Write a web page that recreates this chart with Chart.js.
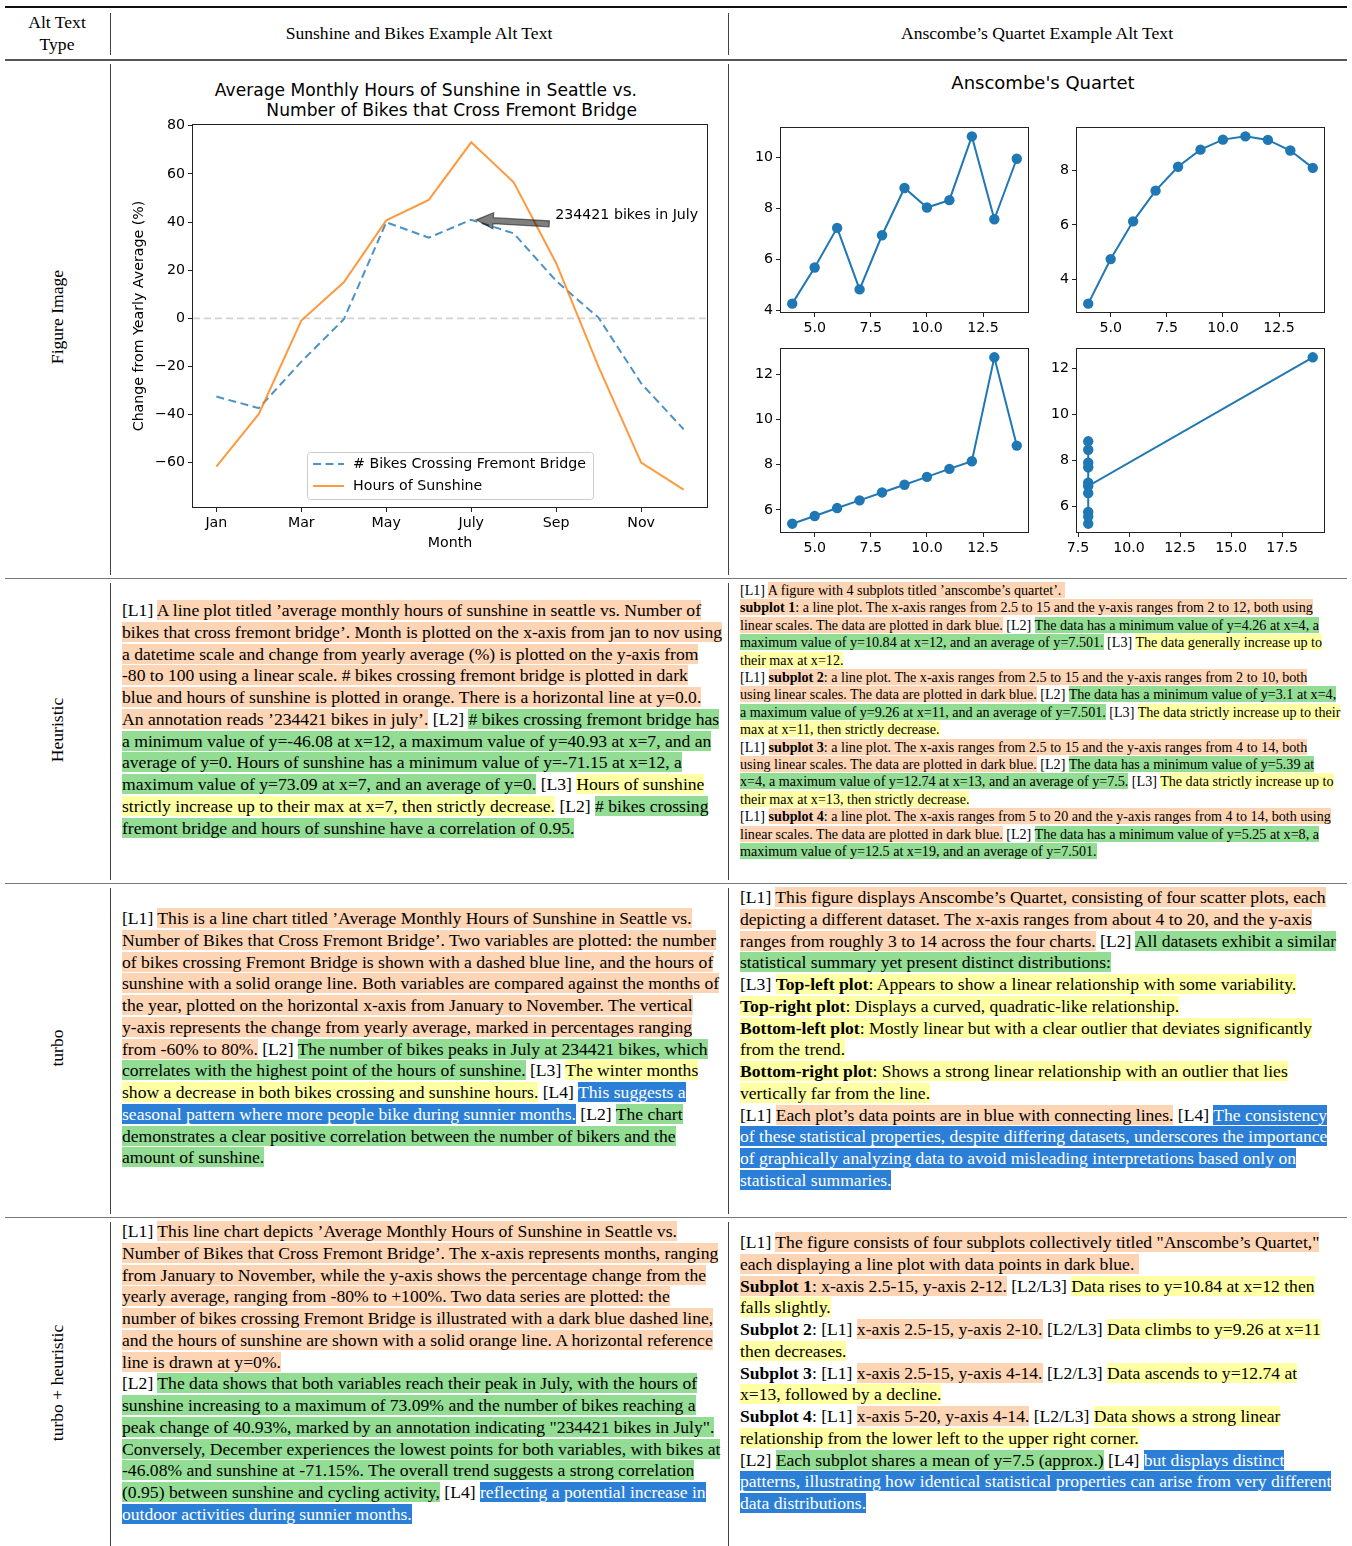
<!DOCTYPE html>
<html>
<head>
<meta charset="utf-8">
<script src="https://cdn.jsdelivr.net/npm/chart.js@4.4.1/dist/chart.umd.min.js"></script>
<style>
body { margin: 0; background: #fff; }
#page { position: relative; width: 1352px; height: 1546px; overflow: hidden; font-family: 'Liberation Serif', 'Times New Roman', serif; font-size: 17.6px; color: #000; }
.hr { position: absolute; left: 5px; width: 1342px; }
.vr { position: absolute; width: 1px; background: #444; }
.cell { position: absolute; white-space: nowrap; line-height: 21.75px; }
.small { font-size: 14.1px; line-height: 17.4px; }
.o { background: #fdd4b4; }
.g { background: #93dc93; }
.y { background: #ffffa3; }
.b { background: #2c7fd6; color: #fff; }
.ctr { position: absolute; white-space: nowrap; text-align: center; line-height: 22px; transform: translate(-50%, -50%); }
.rot { position: absolute; white-space: nowrap; line-height: 22px; transform: translate(-50%, -50%) rotate(-90deg); }
.ctitle { position: absolute; font-family: 'DejaVu Sans', sans-serif; white-space: nowrap; color: #000; }
canvas { position: absolute; }
</style>
</head>
<body>
<div id="page">
  <!-- rules -->
  <div class="hr" style="top:6px;height:2px;background:#111"></div>
  <div class="hr" style="top:59px;height:2px;background:#555"></div>
  <div class="hr" style="top:578px;height:1px;background:#777"></div>
  <div class="hr" style="top:883px;height:1px;background:#777"></div>
  <div class="hr" style="top:1217px;height:1px;background:#777"></div>

  <div class="vr" style="left:110px;top:13px;height:42px"></div>
  <div class="vr" style="left:728px;top:13px;height:42px"></div>
  <div class="vr" style="left:110px;top:64px;height:511px"></div>
  <div class="vr" style="left:728px;top:64px;height:511px"></div>
  <div class="vr" style="left:110px;top:583px;height:297px"></div>
  <div class="vr" style="left:728px;top:583px;height:297px"></div>
  <div class="vr" style="left:110px;top:888px;height:326px"></div>
  <div class="vr" style="left:728px;top:888px;height:326px"></div>
  <div class="vr" style="left:110px;top:1222px;height:324px"></div>
  <div class="vr" style="left:728px;top:1222px;height:324px"></div>

  <!-- header -->
  <div class="ctr" style="left:57px;top:33px">Alt Text<br>Type</div>
  <div class="ctr" style="left:419px;top:33px">Sunshine and Bikes Example Alt Text</div>
  <div class="ctr" style="left:1037px;top:33px">Anscombe’s Quartet Example Alt Text</div>

  <!-- row labels -->
  <div class="rot" style="left:57px;top:317px">Figure Image</div>
  <div class="rot" style="left:57px;top:730px">Heuristic</div>
  <div class="rot" style="left:57px;top:1048px">turbo</div>
  <div class="rot" style="left:57px;top:1383px">turbo + heuristic</div>

  <!-- figures -->
  <div class="ctitle" style="left:100px;top:80px;width:537px;text-align:right;font-size:17.1px;line-height:20px">Average Monthly Hours of Sunshine in Seattle vs.<br>Number of Bikes that Cross Fremont Bridge</div>
  <canvas id="sun" width="612" height="440" style="left:112px;top:118px"></canvas>

  <div class="ctitle" style="left:728px;top:73px;width:630px;text-align:center;font-size:18px;line-height:20px">Anscombe's Quartet</div>
  <canvas id="q1" width="300" height="228" style="left:735px;top:118px"></canvas>
  <canvas id="q2" width="300" height="228" style="left:1031px;top:118px"></canvas>
  <canvas id="q3" width="300" height="228" style="left:735px;top:339px"></canvas>
  <canvas id="q4" width="300" height="228" style="left:1031px;top:339px"></canvas>

  <!-- heuristic -->
  <div class="cell" style="left:122px;top:600px">[L1] <span class="o">A line plot titled ’average monthly hours of sunshine in seattle vs. Number of<br>
bikes that cross fremont bridge’. Month is plotted on the x-axis from jan to nov using<br>
a datetime scale and change from yearly average (%) is plotted on the y-axis from<br>
-80 to 100 using a linear scale. # bikes crossing fremont bridge is plotted in dark<br>
blue and hours of sunshine is plotted in orange. There is a horizontal line at y=0.0.<br>
An annotation reads ’234421 bikes in july’.</span> [L2] <span class="g"># bikes crossing fremont bridge has<br>
a minimum value of y=-46.08 at x=12, a maximum value of y=40.93 at x=7, and an<br>
average of y=0. Hours of sunshine has a minimum value of y=-71.15 at x=12, a<br>
maximum value of y=73.09 at x=7, and an average of y=0.</span> [L3] <span class="y">Hours of sunshine<br>
strictly increase up to their max at x=7, then strictly decrease.</span> [L2] <span class="g"># bikes crossing<br>
fremont bridge and hours of sunshine have a correlation of 0.95.</span></div>

  <div class="cell small" style="left:740px;top:582px">[L1] <span class="o">A figure with 4 subplots titled ’anscombe’s quartet’.&nbsp;<br>
<b>subplot 1</b>: a line plot. The x-axis ranges from 2.5 to 15 and the y-axis ranges from 2 to 12, both using<br>
linear scales. The data are plotted in dark blue.</span> [L2] <span class="g">The data has a minimum value of y=4.26 at x=4, a<br>
maximum value of y=10.84 at x=12, and an average of y=7.501.</span> [L3] <span class="y">The data generally increase up to<br>
their max at x=12.</span><br>
[L1] <span class="o"><b>subplot 2</b>: a line plot. The x-axis ranges from 2.5 to 15 and the y-axis ranges from 2 to 10, both<br>
using linear scales. The data are plotted in dark blue.</span> [L2] <span class="g">The data has a minimum value of y=3.1 at x=4,<br>
a maximum value of y=9.26 at x=11, and an average of y=7.501.</span> [L3] <span class="y">The data strictly increase up to their<br>
max at x=11, then strictly decrease.</span><br>
[L1] <span class="o"><b>subplot 3</b>: a line plot. The x-axis ranges from 2.5 to 15 and the y-axis ranges from 4 to 14, both<br>
using linear scales. The data are plotted in dark blue.</span> [L2] <span class="g">The data has a minimum value of y=5.39 at<br>
x=4, a maximum value of y=12.74 at x=13, and an average of y=7.5.</span> [L3] <span class="y">The data strictly increase up to<br>
their max at x=13, then strictly decrease.</span><br>
[L1] <span class="o"><b>subplot 4</b>: a line plot. The x-axis ranges from 5 to 20 and the y-axis ranges from 4 to 14, both using<br>
linear scales. The data are plotted in dark blue.</span> [L2] <span class="g">The data has a minimum value of y=5.25 at x=8, a<br>
maximum value of y=12.5 at x=19, and an average of y=7.501.</span></div>

  <!-- turbo -->
  <div class="cell" style="left:122px;top:908px">[L1] <span class="o">This is a line chart titled ’Average Monthly Hours of Sunshine in Seattle vs.<br>
Number of Bikes that Cross Fremont Bridge’. Two variables are plotted: the number<br>
of bikes crossing Fremont Bridge is shown with a dashed blue line, and the hours of<br>
sunshine with a solid orange line. Both variables are compared against the months of<br>
the year, plotted on the horizontal x-axis from January to November. The vertical<br>
y-axis represents the change from yearly average, marked in percentages ranging<br>
from -60% to 80%.</span> [L2] <span class="g">The number of bikes peaks in July at 234421 bikes, which<br>
correlates with the highest point of the hours of sunshine.</span> [L3] <span class="y">The winter months<br>
show a decrease in both bikes crossing and sunshine hours.</span> [L4] <span class="b">This suggests a<br>
seasonal pattern where more people bike during sunnier months.</span> [L2] <span class="g">The chart<br>
demonstrates a clear positive correlation between the number of bikers and the<br>
amount of sunshine.</span></div>

  <div class="cell" style="left:740px;top:887px">[L1] <span class="o">This figure displays Anscombe’s Quartet, consisting of four scatter plots, each<br>
depicting a different dataset. The x-axis ranges from about 4 to 20, and the y-axis<br>
ranges from roughly 3 to 14 across the four charts.</span> [L2] <span class="g">All datasets exhibit a similar<br>
statistical summary yet present distinct distributions:</span><br>
[L3] <span class="y"><b>Top-left plot</b>: Appears to show a linear relationship with some variability.<br>
<b>Top-right plot</b>: Displays a curved, quadratic-like relationship.<br>
<b>Bottom-left plot</b>: Mostly linear but with a clear outlier that deviates significantly<br>
from the trend.<br>
<b>Bottom-right plot</b>: Shows a strong linear relationship with an outlier that lies<br>
vertically far from the line.</span><br>
[L1] <span class="o">Each plot’s data points are in blue with connecting lines.</span> [L4] <span class="b">The consistency<br>
of these statistical properties, despite differing datasets, underscores the importance<br>
of graphically analyzing data to avoid misleading interpretations based only on<br>
statistical summaries.</span></div>

  <!-- turbo + heuristic -->
  <div class="cell" style="left:122px;top:1221px">[L1] <span class="o">This line chart depicts ’Average Monthly Hours of Sunshine in Seattle vs.<br>
Number of Bikes that Cross Fremont Bridge’. The x-axis represents months, ranging<br>
from January to November, while the y-axis shows the percentage change from the<br>
yearly average, ranging from -80% to +100%. Two data series are plotted: the<br>
number of bikes crossing Fremont Bridge is illustrated with a dark blue dashed line,<br>
and the hours of sunshine are shown with a solid orange line. A horizontal reference<br>
line is drawn at y=0%.</span><br>
[L2] <span class="g">The data shows that both variables reach their peak in July, with the hours of<br>
sunshine increasing to a maximum of 73.09% and the number of bikes reaching a<br>
peak change of 40.93%, marked by an annotation indicating "234421 bikes in July".<br>
Conversely, December experiences the lowest points for both variables, with bikes at<br>
-46.08% and sunshine at -71.15%. The overall trend suggests a strong correlation<br>
(0.95) between sunshine and cycling activity,</span> [L4] <span class="b">reflecting a potential increase in<br>
outdoor activities during sunnier months.</span></div>

  <div class="cell" style="left:740px;top:1232px">[L1] <span class="o">The figure consists of four subplots collectively titled "Anscombe’s Quartet,"<br>
each displaying a line plot with data points in dark blue.&nbsp;<br>
<b>Subplot 1</b>: x-axis 2.5-15, y-axis 2-12.</span> [L2/L3] <span class="y">Data rises to y=10.84 at x=12 then<br>
falls slightly.</span><br>
<b>Subplot 2</b>: [L1] <span class="o">x-axis 2.5-15, y-axis 2-10.</span> [L2/L3] <span class="y">Data climbs to y=9.26 at x=11<br>
then decreases.</span><br>
<b>Subplot 3</b>: [L1] <span class="o">x-axis 2.5-15, y-axis 4-14.</span> [L2/L3] <span class="y">Data ascends to y=12.74 at<br>
x=13, followed by a decline.</span><br>
<b>Subplot 4</b>: [L1] <span class="o">x-axis 5-20, y-axis 4-14.</span> [L2/L3] <span class="y">Data shows a strong linear<br>
relationship from the lower left to the upper right corner.</span><br>
[L2] <span class="g">Each subplot shares a mean of y=7.5 (approx.)</span> [L4] <span class="b">but displays distinct<br>
patterns, illustrating how identical statistical properties can arise from very different<br>
data distributions.</span></div>
</div>

<script>
// sunshine vs bikes
const months = ['Jan', 'Feb', 'Mar', 'Apr', 'May', 'Jun', 'Jul', 'Aug', 'Sep', 'Oct', 'Nov', 'Dec'];
const monthTickLabels = ['Jan', 'Mar', 'May', 'July', 'Sep', 'Nov'];
const bikes = [-32.5, -37.3, -18.0, -0.4, 39.9, 33.5, 40.93, 35.3, 15.5, 0.2, -27.0, -46.08];
const sunshine = [-61.6, -39.7, -0.9, 15.0, 40.7, 49.2, 73.09, 56.5, 22.9, -20.3, -59.9, -71.15];
const changeTicks = [-60, -40, -20, 0, 20, 40, 60, 80];
const bikeLabel = '# Bikes Crossing Fremont Bridge';
const sunLabel = 'Hours of Sunshine';
const noteText = '234421 bikes in July';
const noteMonth = 'Jul';

// anscombe
const quartetX = [4, 5, 6, 7, 8, 9, 10, 11, 12, 13, 14];
const quartetY1 = [4.26, 5.68, 7.24, 4.82, 6.95, 8.81, 8.04, 8.33, 10.84, 7.58, 9.96];
const quartetY2 = [3.10, 4.74, 6.13, 7.26, 8.14, 8.77, 9.14, 9.26, 9.13, 8.74, 8.10];
const quartetY3 = [5.39, 5.73, 6.08, 6.42, 6.77, 7.11, 7.46, 7.81, 8.15, 12.74, 8.84];
const quartetX4 = [8, 8, 8, 8, 8, 8, 8, 8, 8, 8, 19];
const quartetY4 = [6.58, 5.76, 7.71, 8.84, 8.47, 7.04, 5.25, 5.56, 7.91, 6.89, 12.50];
const quartetXTicks = [5, 7.5, 10, 12.5];
const quartetX4Ticks = [7.5, 10, 12.5, 15, 17.5];
const quartetYTicks = [[4, 6, 8, 10], [4, 6, 8], [6, 8, 10, 12], [6, 8, 10, 12]];

const BLUE = 'rgba(31,119,180,0.8)';
const ORANGE = 'rgba(255,127,14,0.8)';
const MPL_BLUE = '#1f77b4';

Chart.defaults.font.family = "'DejaVu Sans', sans-serif";
Chart.defaults.font.size = 14.2;
Chart.defaults.color = '#000';

// matplotlib style auto limits (5% margin)
function span(values) {
    const lo = Math.min(...values), hi = Math.max(...values);
    const m = (hi - lo) * 0.05;
    return [lo - m, hi + m];
}

const minus = v => String(v).replace('-', '\u2212');

function axis(range, ticks, fmt, size, horizontal) {
    return {
        type: 'linear',
        min: range[0],
        max: range[1],
        afterBuildTicks: s => { s.ticks = ticks.map(v => ({ value: v })); },
        ticks: { callback: fmt, padding: 3, maxRotation: 0, autoSkip: false, color: '#000' },
        grid: { drawOnChartArea: false, color: '#222', tickLength: 5, tickWidth: 1 },
        border: { display: false },
        afterFit: s => {
            if (horizontal) { s.height = size; s.paddingLeft = 0; s.paddingRight = 0; }
            else { s.width = size; s.paddingTop = 0; s.paddingBottom = 0; }
        }
    };
}

const frame = {
    id: 'frame',
    afterDatasetsDraw(chart) {
        const { ctx, chartArea: a } = chart;
        ctx.save();
        ctx.strokeStyle = '#222';
        ctx.lineWidth = 1;
        ctx.strokeRect(Math.round(a.left) - 0.5, Math.round(a.top) - 0.5,
            Math.round(a.right - a.left) + 1, Math.round(a.bottom - a.top) + 1);
        ctx.restore();
    }
};

const sunDeco = {
    id: 'sunDeco',
    beforeDatasetsDraw(chart) {
        const { ctx, chartArea: a, scales: { y } } = chart;
        const py = y.getPixelForValue(0);
        ctx.save();
        ctx.strokeStyle = '#d4d4d4';
        ctx.lineWidth = 1.6;
        ctx.setLineDash([7, 4]);
        ctx.beginPath();
        ctx.moveTo(a.left, py);
        ctx.lineTo(a.right, py);
        ctx.stroke();
        ctx.restore();
    },
    afterDatasetsDraw(chart) {
        const { ctx, scales: { x, y } } = chart;
        const i = months.indexOf(noteMonth);
        const px = x.getPixelForValue(i + 1), py = y.getPixelForValue(bikes[i]);
        const tip = [px + 5, py], tail = [px + 78, py + 4];
        const dx = tail[0] - tip[0], dy = tail[1] - tip[1], len = Math.hypot(dx, dy);
        const ux = dx / len, uy = dy / len, nx = -uy, ny = ux;
        const hl = 17, hw = 8, sw = 3;
        const bx = tip[0] + ux * hl, by = tip[1] + uy * hl;
        ctx.save();
        ctx.beginPath();
        ctx.moveTo(tip[0], tip[1]);
        ctx.lineTo(bx + nx * hw, by + ny * hw);
        ctx.lineTo(bx + nx * sw, by + ny * sw);
        ctx.lineTo(tail[0] + nx * sw, tail[1] + ny * sw);
        ctx.lineTo(tail[0] - nx * sw, tail[1] - ny * sw);
        ctx.lineTo(bx - nx * sw, by - ny * sw);
        ctx.lineTo(bx - nx * hw, by - ny * hw);
        ctx.closePath();
        ctx.fillStyle = 'rgba(0,0,0,0.5)';
        ctx.fill();
        ctx.strokeStyle = 'rgba(0,0,0,0.5)';
        ctx.lineWidth = 1.3;
        ctx.stroke();
        ctx.fillStyle = '#000';
        ctx.font = "14.2px 'DejaVu Sans'";
        ctx.textBaseline = 'middle';
        ctx.fillText(noteText, px + 84, py - 4);
        ctx.restore();
    },
    afterDraw(chart) {
        // legend, lower center inside the axes
        const { ctx, chartArea: a } = chart;
        const sets = chart.data.datasets.slice().sort((p, q) => q.order - p.order);
        ctx.save();
        ctx.font = "14.2px 'DejaVu Sans'";
        const tw = Math.max(...sets.map(d => ctx.measureText(d.label).width));
        const w = 6 + 31 + 9 + tw + 7, h = 47;
        const lx = (a.left + a.right) / 2 - w / 2, ly = a.bottom - 8 - h;
        ctx.beginPath();
        ctx.roundRect(lx + 0.5, ly + 0.5, w, h, 3);
        ctx.fillStyle = 'rgba(255,255,255,0.8)';
        ctx.fill();
        ctx.strokeStyle = '#cccccc';
        ctx.lineWidth = 1;
        ctx.stroke();
        sets.forEach((d, k) => {
            const yy = ly + 12 + k * 22;
            ctx.beginPath();
            ctx.setLineDash(d.borderDash || []);
            ctx.strokeStyle = d.borderColor;
            ctx.lineWidth = d.borderWidth;
            ctx.moveTo(lx + 6, yy);
            ctx.lineTo(lx + 37, yy);
            ctx.stroke();
            ctx.setLineDash([]);
            ctx.fillStyle = '#000';
            ctx.textBaseline = 'middle';
            ctx.fillText(d.label, lx + 46, yy);
        });
        ctx.restore();
    }
};

const tickMonths = monthTickLabels.map(l => months.indexOf(l.slice(0, 3)) + 1);

new Chart(document.getElementById('sun'), {
    type: 'line',
    data: {
        datasets: [
            {
                label: bikeLabel,
                data: bikes.map((v, i) => ({ x: i + 1, y: v })),
                borderColor: BLUE,
                borderDash: [8, 4.5],
                borderWidth: 2,
                pointRadius: 0,
                order: 1
            },
            {
                label: sunLabel,
                data: sunshine.map((v, i) => ({ x: i + 1, y: v })),
                borderColor: ORANGE,
                borderWidth: 2,
                pointRadius: 0,
                order: 0
            }
        ]
    },
    options: {
        responsive: false,
        animation: false,
        events: [],
        layout: { padding: { top: 7, right: 17, left: 0, bottom: 0 } },
        plugins: { legend: { display: false }, tooltip: { enabled: false } },
        scales: {
            x: Object.assign(axis(span([1, months.length]), tickMonths,
                v => monthTickLabels[tickMonths.indexOf(v)], 51, true), {
                title: { display: true, text: 'Month', color: '#000', padding: { top: 0, bottom: 6.6 } }
            }),
            y: Object.assign(axis(span(bikes.concat(sunshine)), changeTicks, minus, 81, false), {
                title: { display: true, text: 'Change from Yearly Average (%)', color: '#000', padding: { top: 18.6, bottom: 0 } }
            })
        }
    },
    plugins: [sunDeco, frame]
});

function quartet(id, xs, ys, xTicks, yTicks, xh) {
    new Chart(document.getElementById(id), {
        type: 'scatter',
        data: {
            datasets: [{
                data: xs.map((x, i) => ({ x, y: ys[i] })),
                showLine: true,
                borderColor: MPL_BLUE,
                backgroundColor: MPL_BLUE,
                borderWidth: 2,
                pointRadius: 5.2,
                pointBorderWidth: 0,
                pointBackgroundColor: MPL_BLUE
            }]
        },
        options: {
            responsive: false,
            animation: false,
            events: [],
            layout: { padding: { top: 10, right: 7, left: 0, bottom: 0 } },
            plugins: { legend: { display: false }, tooltip: { enabled: false } },
            scales: {
                x: axis(span(xs), xTicks, v => v.toFixed(1), xh, true),
                y: axis(span(ys), yTicks, minus, 46, false)
            }
        },
        plugins: [frame]
    });
}

quartet('q1', quartetX, quartetY1, quartetXTicks, quartetYTicks[0], 34);
quartet('q2', quartetX, quartetY2, quartetXTicks, quartetYTicks[1], 34);
quartet('q3', quartetX, quartetY3, quartetXTicks, quartetYTicks[2], 35);
quartet('q4', quartetX4, quartetY4, quartetX4Ticks, quartetYTicks[3], 35);
</script>
</body>
</html>
